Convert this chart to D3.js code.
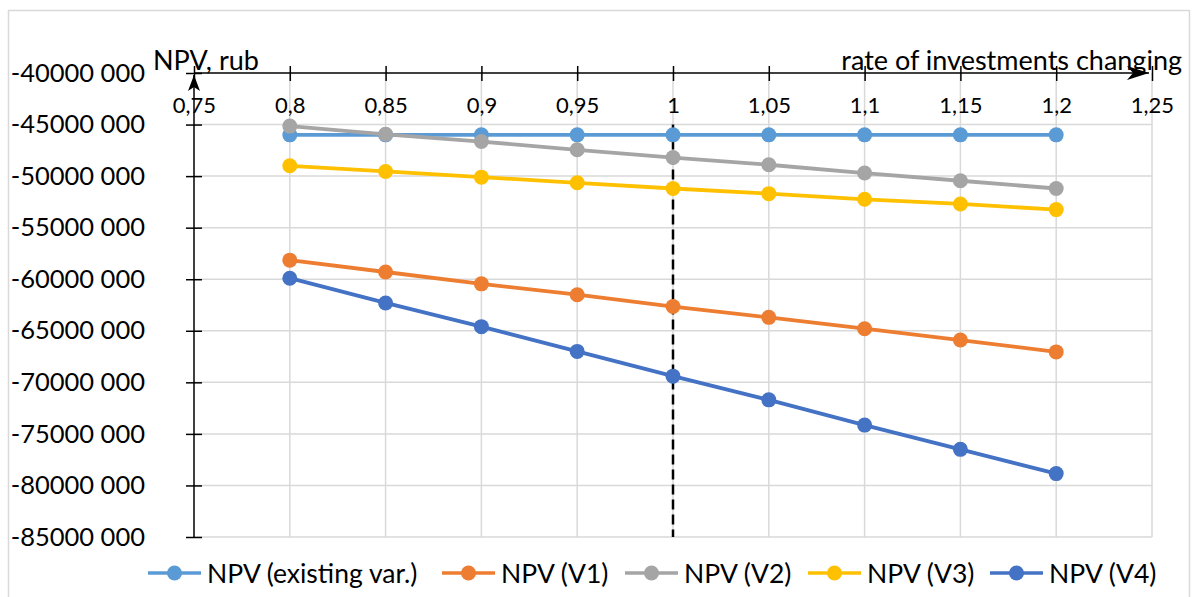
<!DOCTYPE html>
<html>
<head>
<meta charset="utf-8">
<script src="https://cdn.jsdelivr.net/npm/d3@7"></script>
<style>
  html, body { margin: 0; padding: 0; background: #fff; }
  svg text { font-family: Lato, "Open Sans", sans-serif; fill: #000; }
</style>
</head>
<body>
<svg id="chart" width="1192" height="597"></svg>
<script>
const rates = [0.8, 0.85, 0.9, 0.95, 1, 1.05, 1.1, 1.15, 1.2];
const xTicks = [0.75, 0.8, 0.85, 0.9, 0.95, 1, 1.05, 1.1, 1.15, 1.2, 1.25];
const yTicks = [-40000000, -45000000, -50000000, -55000000, -60000000, -65000000, -70000000, -75000000, -80000000, -85000000];
const seriesNames = ["NPV (existing var.)", "NPV (V1)", "NPV (V2)", "NPV (V3)", "NPV (V4)"];
const seriesColors = ["#5B9BD5", "#ED7D31", "#A5A5A5", "#FFC000", "#4472C4"];
const npvExisting = [-46.0, -46.0, -46.0, -46.0, -46.0, -46.0, -46.0, -46.0, -46.0].map(v => v * 1e6);
const npvV1 = [-58.15, -59.3, -60.45, -61.5, -62.65, -63.7, -64.8, -65.9, -67.05].map(v => v * 1e6);
const npvV2 = [-45.15, -45.95, -46.65, -47.45, -48.2, -48.9, -49.7, -50.45, -51.2].map(v => v * 1e6);
const npvV3 = [-49.0, -49.55, -50.1, -50.65, -51.2, -51.7, -52.25, -52.7, -53.25].map(v => v * 1e6);
const npvV4 = [-59.9, -62.3, -64.6, -67.0, -69.4, -71.7, -74.15, -76.5, -78.85].map(v => v * 1e6);
const seriesValues = [npvExisting, npvV1, npvV2, npvV3, npvV4];
const refX = 1;
const refY = [-45000000, -85000000];

const svg = d3.select("#chart");

// outer frame
svg.append("rect").attr("x", 8.5).attr("y", 10.5).attr("width", 1181).attr("height", 590)
  .attr("fill", "#fff").attr("stroke", "#D9D9D9").attr("stroke-width", 1.5);

const x = d3.scaleLinear().domain([0.75, 1.25]).range([194, 1152]);
const y = d3.scaleLinear().domain([-40000000, -85000000]).range([73, 537]);

const fmtY = v => {
  const s = Math.abs(v).toString();
  return "-" + s.slice(0, s.length - 3) + " " + s.slice(-3);
};
const fmtX = v => String(+v.toFixed(2)).replace(".", ",");

// gridlines
const grid = svg.append("g");
grid.selectAll("line.h").data(yTicks.slice(1)).join("line")
  .attr("x1", x(0.75)).attr("x2", x(1.25))
  .attr("y1", d => y(d)).attr("y2", d => y(d))
  .attr("stroke", "#D9D9D9").attr("stroke-width", 1.5);
grid.selectAll("line.v").data(xTicks.slice(1)).join("line")
  .attr("x1", d => x(d)).attr("x2", d => x(d))
  .attr("y1", y(-40000000)).attr("y2", y(-85000000))
  .attr("stroke", "#D9D9D9").attr("stroke-width", 1.5);

// arrow markers
const defs = svg.append("defs");
defs.append("marker").attr("id", "arrow").attr("viewBox", "0 0 22 14")
  .attr("refX", 22).attr("refY", 7).attr("markerWidth", 22).attr("markerHeight", 14)
  .attr("markerUnits", "userSpaceOnUse").attr("orient", "auto")
  .append("path").attr("d", "M0,0 L22,7 L0,14 L6,7 Z").attr("fill", "#000");
defs.append("marker").attr("id", "arrowS").attr("viewBox", "0 0 16 12")
  .attr("refX", 16).attr("refY", 6).attr("markerWidth", 16).attr("markerHeight", 12)
  .attr("markerUnits", "userSpaceOnUse").attr("orient", "auto")
  .append("path").attr("d", "M0,0 L16,6 L0,12 L4,6 Z").attr("fill", "#000");

// x axis on top (at y = -40M)
const xAxis = d3.axisBottom(x).tickValues(xTicks).tickFormat(fmtX).tickSize(8).tickPadding(16);
const gx = svg.append("g").attr("transform", `translate(0,${y(-40000000)})`).call(xAxis);
gx.select(".domain").remove();
gx.selectAll(".tick line").attr("y1", -7).attr("y2", 8).attr("stroke", "#000").attr("stroke-width", 1.5);
gx.selectAll(".tick text").style("font-size", "22px").style("font-family", "Lato, sans-serif");
svg.append("line").attr("x1", x(0.75)).attr("x2", 1149).attr("y1", y(-40000000)).attr("y2", y(-40000000))
  .attr("stroke", "#000").attr("stroke-width", 1.5).attr("marker-end", "url(#arrow)");

// y axis
const yAxis = d3.axisLeft(y).tickValues(yTicks).tickFormat(fmtY).tickSize(8).tickPadding(41);
const gy = svg.append("g").attr("transform", `translate(${x(0.75)},0)`).call(yAxis);
gy.select(".domain").remove();
gy.selectAll(".tick line").attr("x1", -8).attr("x2", 8).attr("stroke", "#000").attr("stroke-width", 1.5);
gy.selectAll(".tick text").style("font-size", "25.5px").style("font-family", "Lato, sans-serif");
svg.append("line").attr("x1", x(0.75)).attr("x2", x(0.75)).attr("y1", y(-85000000)).attr("y2", y(-40000000) + 2)
  .attr("stroke", "#000").attr("stroke-width", 1.5).attr("marker-end", "url(#arrowS)");

// axis titles
svg.append("text").attr("x", 153).attr("y", 70).style("font-size", "27px").text("NPV, rub");
svg.append("text").attr("x", 1182).attr("y", 70).attr("text-anchor", "end").style("font-size", "27px").text("rate of investments changing");

// dashed reference line
svg.append("line").attr("x1", x(refX)).attr("x2", x(refX)).attr("y1", y(refY[0])).attr("y2", y(refY[1]))
  .attr("stroke", "#000").attr("stroke-width", 2.5).attr("stroke-dasharray", "10,5");

// series
const line = d3.line().x((d, i) => x(rates[i])).y(d => y(d));
seriesValues.forEach((vals, k) => {
  const g = svg.append("g");
  g.append("path").attr("d", line(vals)).attr("fill", "none")
    .attr("stroke", seriesColors[k]).attr("stroke-width", 3.8);
  g.selectAll("circle").data(vals).join("circle")
    .attr("cx", (d, i) => x(rates[i])).attr("cy", d => y(d)).attr("r", 7.5)
    .attr("fill", seriesColors[k]);
});

// legend
const legendX = [148, 442, 625, 808, 990];
const lg = svg.append("g");
seriesNames.forEach((name, k) => {
  const g = lg.append("g").attr("transform", `translate(${legendX[k]},573)`);
  g.append("line").attr("x1", 0).attr("x2", 53).attr("y1", 0).attr("y2", 0)
    .attr("stroke", seriesColors[k]).attr("stroke-width", 3.5);
  g.append("circle").attr("cx", 26.5).attr("cy", 0).attr("r", 7.5).attr("fill", seriesColors[k]);
  g.append("text").attr("x", 59).attr("y", 10).style("font-size", "26.5px").text(name);
});
</script>
</body>
</html>
